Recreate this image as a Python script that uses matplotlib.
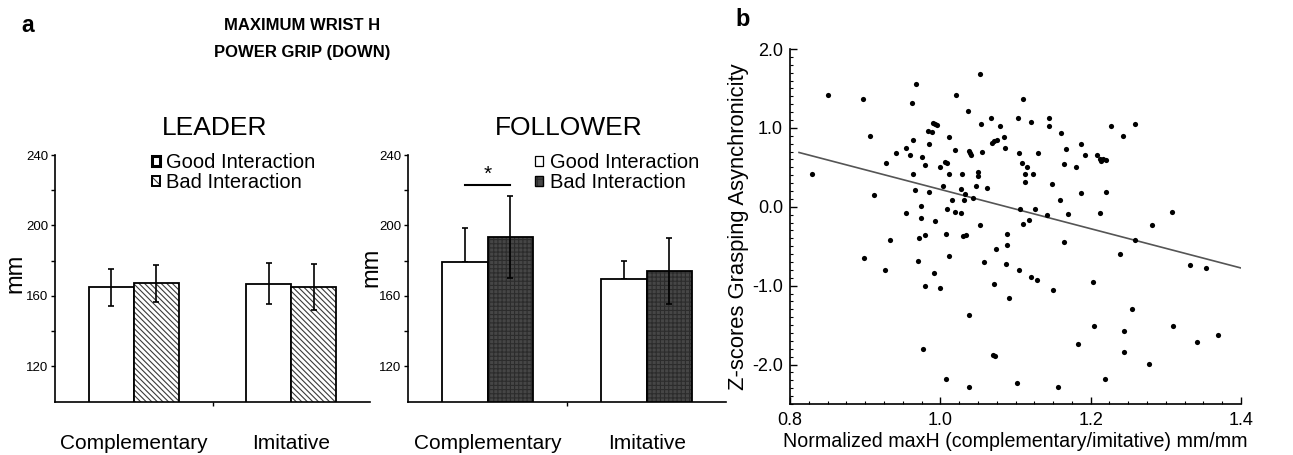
import matplotlib
matplotlib.use("Agg")
import matplotlib.pyplot as plt
import numpy as np
from matplotlib.patches import Patch
from matplotlib.legend_handler import HandlerTuple
from matplotlib.ticker import FixedLocator, MultipleLocator

plt.rcParams['font.family'] = ['Liberation Sans', 'DejaVu Sans']
NARROW = ['Liberation Sans Narrow', 'Liberation Sans', 'DejaVu Sans']
plt.rcParams['hatch.linewidth'] = 0.8

# ---------------- data ----------------
categories = ['Complementary', 'Imitative']
series_labels = ['Good Interaction', 'Bad Interaction']

leader_good = [165.0, 167.0]
leader_good_err = [10.5, 11.5]
leader_bad = [167.3, 165.2]
leader_bad_err = [10.5, 13.0]

follower_good = [179.2, 169.8]
follower_good_err = [19.5, 10.0]
follower_bad = [193.5, 174.0]
follower_bad_err = [23.5, 18.8]

bar_yticks = [120, 160, 200, 240]

scatter_x = [0.829, 0.850, 0.897, 0.906, 0.912, 0.928, 0.941, 0.954, 0.959, 0.962,
             0.963, 0.964, 0.966, 0.968, 0.975, 0.979, 0.974, 0.954, 0.974, 0.983,
             0.985, 0.989, 0.985, 0.990, 0.993, 0.995, 0.993, 0.999, 1.004, 1.006,
             1.009, 1.011, 1.012, 1.009, 1.015, 1.020, 1.021, 1.020, 1.027, 1.027,
             1.029, 1.032, 1.033, 1.037, 1.038, 1.040, 1.041, 1.043, 1.047, 1.050,
             1.050, 1.053, 1.054, 1.056, 1.053, 1.062, 1.068, 1.069, 1.071, 1.075,
             1.079, 1.085, 1.086, 1.103, 1.105, 1.106, 1.109, 1.110, 1.112, 1.112,
             1.115, 1.110, 1.118, 1.121, 1.123, 1.126, 1.130, 1.142, 1.144, 1.144,
             1.148, 1.159, 1.160, 1.164, 1.167, 1.170, 1.180, 1.187, 1.187, 1.193,
             1.209, 1.212, 1.214, 1.217, 1.220, 1.213, 1.220, 1.227, 1.243, 1.259,
             1.282, 1.308,
             0.933, 0.899, 0.927, 0.972, 0.980, 0.970, 0.992, 0.980, 0.999, 1.008,
             1.011, 1.030, 1.034, 1.058, 1.074, 1.089, 1.089, 1.087, 1.104, 1.121,
             1.129, 1.071, 1.092, 1.150, 1.165, 1.038, 0.977, 1.007, 1.038, 1.070,
             1.073, 1.102, 1.157, 1.183, 1.203, 1.204, 1.219, 1.239, 1.244, 1.245,
             1.255, 1.259, 1.277, 1.309, 1.332, 1.342, 1.354, 1.369]
scatter_y = [0.42, 1.42, 1.37, 0.90, 0.15, 0.55, 0.68, 0.74, 0.65, 1.32,
             0.42, 0.85, 0.21, 1.55, 0.63, 0.53, 0.01, -0.08, -0.14, 0.96,
             0.79, 0.95, 0.19, 1.06, 1.05, 1.04, -0.18, 0.50, 0.26, 0.57,
             0.55, 0.41, 0.89, -0.03, 0.08, -0.06, 1.42, 0.72, -0.08, 0.23,
             0.41, 0.08, 0.16, 1.21, 0.71, 0.68, 0.66, 0.11, 0.26, 0.44,
             0.39, 1.68, 1.05, 0.70, -0.23, 0.24, 1.13, 0.81, 0.84, 0.85,
             1.02, 0.88, 0.74, 1.13, 0.68, -0.03, 0.55, 1.37, 0.42, 0.32,
             0.50, -0.22, -0.17, 1.08, 0.42, -0.03, 0.68, -0.10, 1.13, 1.02,
             0.29, 0.09, 0.93, 0.54, 0.73, -0.09, 0.50, 0.80, 0.18, 0.65,
             0.65, 0.60, 0.58, 0.60, 0.59, -0.08, 0.19, 1.02, 0.90, 1.05,
             -0.23, -0.06,
             -0.42, -0.65, -0.80, -0.40, -0.36, -0.69, -0.84, -1.00, -1.03, -0.35,
             -0.63, -0.37, -0.36, -0.70, -0.54, -0.34, -0.49, -0.73, -0.80, -0.89,
             -0.93, -0.98, -1.16, -1.05, -0.45, -1.37, -1.80, -2.18, -2.28, -1.88,
             -1.89, -2.23, -2.28, -1.74, -0.95, -1.51, -2.18, -0.60, -1.58, -1.84,
             -1.30, -0.42, -1.99, -1.51, -0.74, -1.72, -0.78, -1.63]

# regression line (x range, intercept, slope)
reg_x = [0.812, 1.40]
reg_intercept = 2.71
reg_slope = -2.49

# ---------------- figure ----------------
W, H = 1293, 455
fig = plt.figure(figsize=(W / 100, H / 100), dpi=100)


def fx(px):
    return px / W


def fy(py):
    return 1 - py / H


bw = 0.285
LEG_FS = 14.5


def style_bar_axes(ax):
    ax.set_xlim(-0.5, 1.5)
    ax.set_ylim(100, 240)
    for s in ['top', 'right']:
        ax.spines[s].set_visible(False)
    for s in ['left', 'bottom']:
        ax.spines[s].set_linewidth(1.2)
    ax.yaxis.set_major_locator(FixedLocator(bar_yticks))
    ax.yaxis.set_minor_locator(FixedLocator([140, 180, 220]))
    ax.tick_params(axis='y', which='both', direction='out', length=3, width=1, labelsize=9.5, pad=2)
    for lab in ax.get_yticklabels():
        lab.set_family(NARROW)
    ax.set_xticks([0.5])
    ax.set_xticklabels([''])
    ax.set_xticks([0, 1], minor=True)
    ax.set_xticklabels(categories, minor=True, fontsize=15)
    ax.tick_params(axis='x', which='major', direction='out', length=3, width=1)
    ax.tick_params(axis='x', which='minor', length=0, pad=23)
    ax.set_ylabel('mm', fontsize=17)


def add_legend(ax, handles, x_px):
    ax.legend(handles, series_labels, loc='upper left',
              bbox_to_anchor=(fx(x_px), fy(153)), bbox_transform=fig.transFigure,
              frameon=False, fontsize=LEG_FS, handlelength=0.42, handleheight=0.42,
              handletextpad=0.3, labelspacing=0.05, borderpad=0, borderaxespad=0,
              handler_map={tuple: HandlerTuple(ndivide=1, pad=0)})


x = np.arange(len(categories))
ekw = dict(ecolor='black', elinewidth=1.2, capsize=2, capthick=1.2)

# ---- LEADER ----
axL = fig.add_axes([fx(55), fy(401.7), fx(315), (401.7 - 155) / H])
axL.bar(x - bw / 2, leader_good, bw, color='white', edgecolor='black', linewidth=1.3, zorder=2)
axL.bar(x + bw / 2, leader_bad, bw, color='white', edgecolor='#3a3a3a', linewidth=0,
        hatch='\\\\\\\\\\\\', zorder=2)
axL.bar(x + bw / 2, leader_bad, bw, fill=False, edgecolor='black', linewidth=1.3, zorder=3)
axL.errorbar(x - bw / 2, leader_good, yerr=leader_good_err, fmt='none', zorder=4, **ekw)
axL.errorbar(x + bw / 2, leader_bad, yerr=leader_bad_err, fmt='none', zorder=4, **ekw)
style_bar_axes(axL)
axL.yaxis.set_label_coords(-0.092, 0.52)

hL_good = Patch(facecolor='white', edgecolor='black', linewidth=2.2)
hL_bad = (Patch(facecolor='white', edgecolor='#3a3a3a', linewidth=0, hatch='\\\\\\\\'),
          Patch(fill=False, edgecolor='black', linewidth=1.4))
add_legend(axL, [hL_good, hL_bad], 152)

# ---- FOLLOWER ----
axF = fig.add_axes([fx(408.3), fy(401.7), fx(318), (401.7 - 155) / H])
axF.bar(x - bw / 2, follower_good, bw, color='white', edgecolor='black', linewidth=1.3, zorder=2)
axF.bar(x + bw / 2, follower_bad, bw, color='#464646', edgecolor='#2c2c2c', linewidth=0,
        hatch='++++', zorder=2)
axF.bar(x + bw / 2, follower_bad, bw, fill=False, edgecolor='black', linewidth=1.3, zorder=3)
axF.errorbar(x - bw / 2, follower_good,
             yerr=[np.zeros(len(follower_good)), follower_good_err], fmt='none', zorder=1, **ekw)
axF.errorbar(x + bw / 2, follower_bad, yerr=follower_bad_err, fmt='none', zorder=4, **ekw)
style_bar_axes(axF)
axF.yaxis.set_label_coords(-0.082, 0.545)

# significance marker
axF.plot([x[0] - bw / 2, x[0] + bw / 2], [223, 223], color='black', lw=1.5, zorder=5)
axF.text(x[0], 223.5, '*', ha='center', va='bottom', fontsize=15)

hF_good = Patch(facecolor='white', edgecolor='black', linewidth=0.9)
hF_bad = (Patch(facecolor='#464646', edgecolor='#2c2c2c', linewidth=0, hatch='++'),
          Patch(fill=False, edgecolor='black', linewidth=1.0))
add_legend(axF, [hF_good, hF_bad], 535)

# titles
fig.text(fx(215), fy(128), 'LEADER', ha='center', va='center', fontsize=19)
fig.text(fx(569), fy(128), 'FOLLOWER', ha='center', va='center', fontsize=19)
fig.text(fx(302), fy(25), 'MAXIMUM WRIST H', ha='center', va='center', fontsize=12,
         fontweight='bold', family=NARROW)
fig.text(fx(302), fy(52), 'POWER GRIP (DOWN)', ha='center', va='center', fontsize=12,
         fontweight='bold', family=NARROW)
fig.text(fx(21), fy(26), 'a', ha='left', va='center', fontsize=16.5, fontweight='bold')
fig.text(fx(735), fy(19), 'b', ha='left', va='center', fontsize=17, fontweight='bold')

# ---- scatter ----
axS = fig.add_axes([fx(790), fy(404), fx(451), 355 / H])
axS.scatter(scatter_x, scatter_y, s=14, color='black', linewidths=0, zorder=3)
rx = np.array(reg_x)
axS.plot(rx, reg_intercept + reg_slope * rx, color='#555555', lw=1.2, zorder=2)
axS.set_xlim(0.8, 1.4)
axS.set_ylim(-2.5, 2.0)
for s in ['top', 'right']:
    axS.spines[s].set_visible(False)
for s in ['left', 'bottom']:
    axS.spines[s].set_linewidth(1.2)
axS.set_xticks([0.8, 1.0, 1.2, 1.4])
axS.set_xticklabels(['0.8', '1.0', '1.2', '1.4'])
axS.xaxis.set_minor_locator(MultipleLocator(0.025))
axS.set_yticks([-2.0, -1.0, 0.0, 1.0, 2.0])
axS.set_yticklabels(['-2.0', '-1.0', '0.0', '1.0', '2.0'])
axS.yaxis.set_minor_locator(MultipleLocator(0.1))
axS.tick_params(axis='both', which='major', direction='in', length=5, width=1, labelsize=13)
axS.tick_params(axis='both', which='minor', direction='in', length=2.5, width=0.8)
axS.tick_params(axis='x', which='major', pad=6)
axS.tick_params(axis='y', which='major', pad=5)
for lab in axS.get_xticklabels() + axS.get_yticklabels():
    lab.set_family(NARROW)
axS.set_xlabel('Normalized maxH (complementary/imitative) mm/mm', fontsize=14.1, labelpad=2)
axS.set_ylabel('Z-scores Grasping Asynchronicity', fontsize=15.8)
axS.yaxis.set_label_coords(-0.09, 0.5)

fig.savefig('out.png', dpi=100)
